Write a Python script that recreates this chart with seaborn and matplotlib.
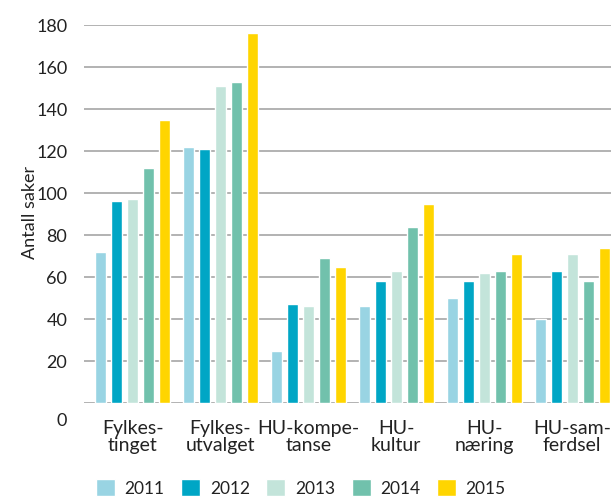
import matplotlib
matplotlib.use("Agg")
import matplotlib.pyplot as plt
import matplotlib.transforms as mtransforms
import seaborn as sns
import pandas as pd

# categories and series
groups = ["Fylkes-\ntinget", "Fylkes-\nutvalget", "HU-kompe-\ntanse",
          "HU-\nkultur", "HU-\nnæring", "HU-sam-\nferdsel"]
years = ["2011", "2012", "2013", "2014", "2015"]
v2011 = [72, 122, 25, 46, 50, 40]
v2012 = [96, 121, 47, 58, 58, 63]
v2013 = [97, 151, 46, 63, 62, 71]
v2014 = [112, 153, 69, 84, 63, 58]
v2015 = [135, 176, 65, 95, 71, 74]
yticks = [0, 20, 40, 60, 80, 100, 120, 140, 160, 180]

colors = ["#99d4e3", "#00a6c5", "#c3e4da", "#71c1ac", "#ffd500"]

rows = []
for yr, vals in zip(years, [v2011, v2012, v2013, v2014, v2015]):
    for g, v in zip(groups, vals):
        rows.append({"group": g, "year": yr, "saker": v})
df = pd.DataFrame(rows)

sns.set_style("white")
plt.rcParams['font.family'] = ['Lato', 'DejaVu Sans']
txt = "#222222"

fig = plt.figure(figsize=(6.11, 4.99), dpi=100)
ax = fig.add_axes([84/611, 1-403/499, 1-84/611, (403-25)/499])

sns.barplot(data=df, x="group", y="saker", hue="year", order=groups,
            hue_order=years, palette=colors, width=0.91, gap=0.31,
            saturation=1, ax=ax)

ax.set_ylim(0, 180)
ax.set_xlim(-0.553, 5.443)
ax.set_yticks(yticks)
ax.yaxis.grid(True, color="#a6a6a6", linewidth=1.2)
ax.set_axisbelow(True)
for s in ax.spines.values():
    s.set_visible(False)
ax.tick_params(axis="y", length=0, labelsize=13, colors=txt, pad=12)
ax.tick_params(axis="x", length=0, labelsize=14, colors=txt, pad=12)
for lab in ax.get_xticklabels():
    lab.set_linespacing(1.0)
ax.set_xlabel("")
ax.set_ylabel("Antall saker", fontsize=13, color=txt)
ax.yaxis.set_label_coords(-0.088, 0.505)

# the zero label sits lower than its gridline
lab0 = ax.get_yticklabels()[0]
lab0.set_transform(lab0.get_transform() +
                   mtransforms.ScaledTranslation(0, -0.17, fig.dpi_scale_trans))

handles, labels = ax.get_legend_handles_labels()
if ax.legend_:
    ax.legend_.remove()
fig.legend(handles, labels, loc="center left",
           bbox_to_anchor=(96/611, 1-488/499), ncol=5, frameon=False,
           fontsize=12.5, handlelength=1.1, handleheight=1.1,
           handletextpad=0.55, columnspacing=0.95, borderpad=0,
           borderaxespad=0, labelcolor=txt)

fig.savefig("out.png", dpi=100)
